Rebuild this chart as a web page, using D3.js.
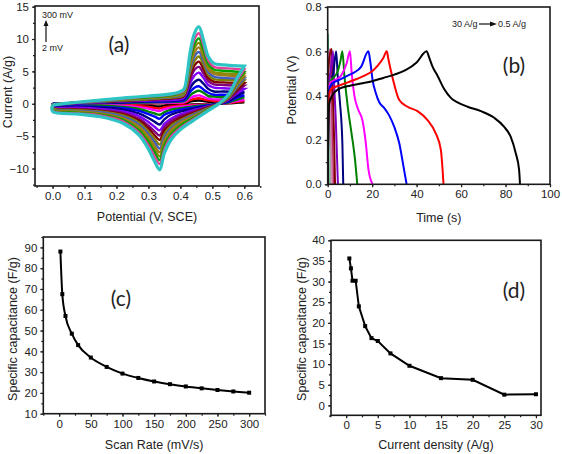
<!DOCTYPE html>
<html><head><meta charset="utf-8">
<script src="https://cdn.jsdelivr.net/npm/d3@7"></script>
<style>
html,body{margin:0;padding:0;background:#fff;}
svg text{font-family:"Liberation Sans",Arial,sans-serif;fill:#222;}
</style></head>
<body><svg id="c" width="562" height="454"></svg>
<script>
// ---------- Panel (a): CV curves ----------
const cvPotF = [0, 0.05, 0.1, 0.2, 0.3, 0.38, 0.41, 0.42, 0.43, 0.445, 0.458, 0.472, 0.487, 0.505, 0.535, 0.6];
const cvPotR = [0.6, 0.58, 0.55, 0.52, 0.48, 0.44, 0.4, 0.37, 0.35, 0.335, 0.32, 0.3, 0.27, 0.22, 0.15, 0.08, 0.0];
const cvRates = [2, 5, 10, 20, 30, 50, 75, 100, 125, 150, 175, 200, 225, 250, 275, 300];
const cvColors = ["#000000","#ff0000","#ff00ff","#008000","#0000ff","#000080","#8000ff","#800080","#800000","#808000","#4060c0","#a07820","#8a8a00","#00a000","#e0409a","#2ec4c4"];
const cvFwd = [
 [-0.01,0.0,0.01,0.03,0.05,0.07,0.09,0.18,0.33,0.46,0.5,0.42,0.31,0.26,0.25,0.24],
 [-0.01,0.01,0.02,0.06,0.09,0.11,0.16,0.3,0.55,0.78,0.85,0.7,0.52,0.44,0.43,0.41],
 [-0.02,0.01,0.04,0.09,0.13,0.17,0.24,0.46,0.85,1.2,1.3,1.08,0.8,0.68,0.65,0.63],
 [0.0,0.0,0.1,0.1,0.2,0.3,0.4,0.7,1.3,1.8,2.0,1.7,1.2,1.1,1.0,1.0],
 [0.0,0.0,0.1,0.2,0.3,0.4,0.5,1.0,1.8,2.5,2.7,2.2,1.7,1.4,1.4,1.3],
 [-0.1,0.0,0.1,0.2,0.4,0.5,0.7,1.3,2.4,3.4,3.7,3.1,2.3,1.9,1.9,1.8],
 [-0.1,0.0,0.1,0.3,0.5,0.6,0.9,1.7,3.1,4.4,4.8,4.0,2.9,2.5,2.4,2.3],
 [-0.1,0.0,0.2,0.4,0.6,0.8,1.1,2.0,3.7,5.3,5.7,4.7,3.5,3.0,2.9,2.8],
 [-0.1,0.1,0.2,0.4,0.7,0.9,1.2,2.3,4.3,6.0,6.5,5.4,4.0,3.4,3.3,3.2],
 [-0.1,0.1,0.2,0.5,0.7,1.0,1.3,2.6,4.8,6.7,7.3,6.1,4.5,3.8,3.7,3.6],
 [-0.1,0.1,0.2,0.5,0.8,1.1,1.5,2.8,5.2,7.4,8.0,6.7,4.9,4.2,4.0,3.9],
 [-0.1,0.1,0.3,0.6,0.9,1.2,1.6,3.1,5.7,8.0,8.7,7.2,5.3,4.6,4.4,4.2],
 [-0.2,0.1,0.3,0.6,0.9,1.3,1.7,3.3,6.2,8.7,9.4,7.8,5.8,4.9,4.7,4.6],
 [-0.2,0.1,0.3,0.7,1.0,1.4,1.9,3.6,6.6,9.3,10.1,8.4,6.2,5.3,5.1,4.9],
 [-0.2,0.1,0.3,0.7,1.1,1.5,2.0,3.8,7.1,10.1,10.9,9.1,6.7,5.7,5.5,5.3],
 [-0.2,0.1,0.35,0.8,1.2,1.6,2.2,4.2,7.8,11.0,11.9,9.9,7.3,6.25,6.0,5.8]
];
const cvRev = [
 [0.24,0.18,0.06,0,-0.05,-0.11,-0.17,-0.24,-0.32,-0.43,-0.38,-0.29,-0.2,-0.13,-0.08,-0.07,-0.05],
 [0.41,0.3,0.1,0,-0.09,-0.18,-0.28,-0.4,-0.54,-0.72,-0.64,-0.5,-0.34,-0.21,-0.14,-0.11,-0.09],
 [0.63,0.46,0.15,0,-0.14,-0.28,-0.44,-0.61,-0.83,-1.11,-0.98,-0.76,-0.52,-0.33,-0.22,-0.17,-0.13],
 [1.0,0.7,0.2,0,-0.2,-0.4,-0.7,-0.9,-1.3,-1.7,-1.5,-1.2,-0.8,-0.5,-0.3,-0.3,-0.2],
 [1.3,1.0,0.3,0,-0.3,-0.6,-0.9,-1.3,-1.7,-2.3,-2.0,-1.6,-1.1,-0.7,-0.5,-0.4,-0.3],
 [1.8,1.3,0.4,0,-0.4,-0.8,-1.2,-1.7,-2.4,-3.2,-2.8,-2.2,-1.5,-0.9,-0.6,-0.5,-0.4],
 [2.3,1.7,0.6,0,-0.5,-1.0,-1.6,-2.3,-3.1,-4.1,-3.6,-2.8,-1.9,-1.2,-0.8,-0.6,-0.5],
 [2.8,2.0,0.7,0,-0.6,-1.2,-1.9,-2.7,-3.6,-4.9,-4.3,-3.4,-2.3,-1.4,-1.0,-0.8,-0.6],
 [3.2,2.3,0.8,0,-0.7,-1.4,-2.2,-3.1,-4.1,-5.6,-4.9,-3.8,-2.6,-1.6,-1.1,-0.9,-0.7],
 [3.6,2.6,0.9,0,-0.8,-1.6,-2.5,-3.4,-4.7,-6.3,-5.5,-4.3,-2.9,-1.8,-1.2,-1.0,-0.7],
 [3.9,2.8,0.9,0,-0.9,-1.7,-2.7,-3.8,-5.1,-6.9,-6.0,-4.7,-3.2,-2.0,-1.3,-1.1,-0.8],
 [4.2,3.1,1.0,0,-1.0,-1.9,-2.9,-4.1,-5.6,-7.5,-6.6,-5.1,-3.5,-2.2,-1.5,-1.2,-0.9],
 [4.6,3.3,1.1,0,-1.0,-2.1,-3.2,-4.4,-6.0,-8.1,-7.1,-5.5,-3.8,-2.4,-1.6,-1.3,-0.9],
 [4.9,3.6,1.2,0,-1.1,-2.2,-3.4,-4.8,-6.5,-8.7,-7.6,-5.9,-4.1,-2.5,-1.7,-1.4,-1.0],
 [5.3,3.8,1.3,0,-1.2,-2.4,-3.7,-5.1,-7.0,-9.3,-8.2,-6.4,-4.4,-2.7,-1.8,-1.5,-1.1],
 [5.8,4.2,1.4,0.0,-1.3,-2.6,-4.0,-5.6,-7.6,-10.2,-9.0,-7.0,-4.8,-3.0,-2.0,-1.6,-1.2]
];
const cvXTicks = [0, 0.1, 0.2, 0.3, 0.4, 0.5, 0.6];
const cvYTicks = [-10, -5, 0, 5, 10, 15];

// ---------- Panel (b): GCD curves (time s, potential V) ----------
const gcd30 = [[0,0],[0.1,0.68],[0.25,0.62],[0.45,0.3],[0.65,0]];
const gcd20 = [[0,0],[0.05,0.56],[0.7,0.61],[1.0,0.35],[1.4,0]];
const gcd15 = [[0,0],[0.05,0.55],[1.0,0.61],[1.3,0.4],[1.8,0.1],[2.0,0]];
const gcd10 = [[0,0],[0.1,0.5],[1.4,0.61],[1.7,0.4],[2.3,0.15],[2.6,0]];
const gcd7 = [[0,0],[0.1,0.5],[1.8,0.61],[2.2,0.45],[2.9,0.2],[3.3,0]];
const gcd4 = [[0,0],[0.2,0.45],[1.2,0.5],[2.4,0.6],[2.9,0.45],[3.6,0.3],[4.2,0.12],[4.6,0]];
const gcd3 = [[0,0],[0.2,0.43],[1,0.45],[2.5,0.5],[3.8,0.6],[4.5,0.49],[5.5,0.37],[6.6,0.185],[7.0,0]];
const gcd2 = [[0,0],[0.2,0.44],[0.7,0.456],[2.5,0.48],[4.5,0.51],[5.8,0.56],[6.6,0.6],[7.5,0.49],[8.1,0.43],[9,0.35],[10.5,0.245],[12.3,0.11],[13.3,0]];
const gcd15b = [[0,0],[0.3,0.43],[1.2,0.46],[3.3,0.47],[6,0.49],[8.5,0.545],[10,0.6],[10.8,0.5],[12,0.4],[13.8,0.335],[15.6,0.29],[17.1,0.19],[18.3,0.07],[20.2,0]];
const gcd1 = [[0,0],[0.4,0.42],[2,0.455],[5,0.47],[9,0.49],[12,0.505],[15,0.53],[18.3,0.6],[19.2,0.55],[20.2,0.47],[21.7,0.41],[23.2,0.37],[25.4,0.345],[27.7,0.31],[29.9,0.26],[32.2,0.185],[34.1,0.08],[35.5,0]];
const gcd075 = [[0,0],[0.5,0.40],[1.5,0.43],[5,0.445],[9,0.46],[13,0.475],[16.5,0.49],[20,0.51],[22.5,0.535],[25,0.57],[26.6,0.6],[27.2,0.57],[29.2,0.48],[32.2,0.38],[35.9,0.35],[40.4,0.33],[44.9,0.29],[48.6,0.23],[50.9,0.155],[52.1,0]];
const gcd05 = [[0,0],[0.6,0.36],[2,0.40],[5,0.43],[10,0.445],[15,0.455],[20,0.465],[25,0.48],[30,0.495],[35,0.515],[40,0.55],[44.5,0.6],[45.7,0.57],[47.2,0.53],[49.4,0.49],[52.4,0.43],[55.4,0.39],[58.4,0.37],[62.9,0.35],[68.9,0.33],[74.9,0.30],[79.3,0.26],[82.3,0.215],[84.6,0.14],[86.1,0.065],[86.5,0]];
const gcdSeries = [gcd30, gcd20, gcd15, gcd10, gcd7, gcd4, gcd3, gcd2, gcd15b, gcd1, gcd075, gcd05];
const gcdColors = ["#00a050","#a0a0a0","#d080b0","#c03070","#800000","#8000c0","#000080","#008000","#ff00ff","#0000ff","#ff0000","#000000"];
const gcdWidths = [1,1.5,1.5,1.5,2,2,2,2,2,2,2,2];
const gcdXTicks = [0, 20, 40, 60, 80, 100];
const gcdYTicks = [0, 0.2, 0.4, 0.6, 0.8];

// ---------- Panel (c): capacitance vs scan rate ----------
const scanRate = [2, 5, 10, 20, 30, 50, 75, 100, 125, 150, 175, 200, 225, 250, 275, 300];
const capScan = [88, 67.5, 57, 48.5, 43, 37, 32.5, 29.3, 27.2, 25.5, 24.2, 23.1, 22.2, 21.4, 20.7, 20.1];
const scanXTicks = [0, 50, 100, 150, 200, 250, 300];
const scanYTicks = [10, 20, 30, 40, 50, 60, 70, 80, 90];

// ---------- Panel (d): capacitance vs current density ----------
const currDens = [0.5, 0.75, 1, 1.5, 2, 3, 4, 5, 7, 10, 15, 20, 25, 30];
const capCurr = [35.6, 33.2, 30.2, 30.2, 24, 19.2, 16.3, 15.6, 12.6, 9.6, 6.6, 6.2, 2.6, 2.7];
const currXTicks = [0, 5, 10, 15, 20, 25, 30];
const currYTicks = [0, 5, 10, 15, 20, 25, 30, 35, 40];

const svg = d3.select("#c");

function panel(o){
  const g = svg.append("g");
  const x = d3.scaleLinear().domain(o.xd).range([o.l, o.r]);
  const y = d3.scaleLinear().domain(o.yd).range([o.b, o.t]);
  const clipId = "clip" + o.id;
  svg.append("clipPath").attr("id", clipId).append("rect")
    .attr("x", o.l).attr("y", o.t).attr("width", o.r - o.l).attr("height", o.b - o.t);
  const plot = g.append("g").attr("clip-path", `url(#${clipId})`);
  const xAxis = d3.axisBottom(x).tickValues(o.xt).tickFormat(o.xf).tickSize(3).tickPadding(3);
  const yAxis = d3.axisLeft(y).tickValues(o.yt).tickFormat(o.yf).tickSize(3).tickPadding(3);
  const xMinor = d3.axisBottom(x).tickValues(o.xm).tickFormat("").tickSize(2);
  const yMinor = d3.axisLeft(y).tickValues(o.ym).tickFormat("").tickSize(2);
  g.append("g").attr("transform", `translate(0,${o.b})`).call(xAxis);
  g.append("g").attr("transform", `translate(0,${o.b})`).call(xMinor);
  g.append("g").attr("transform", `translate(${o.l},0)`).call(yAxis);
  g.append("g").attr("transform", `translate(${o.l},0)`).call(yMinor);
  g.selectAll(".domain").remove();
  g.selectAll(".tick line").attr("stroke", "#222").attr("stroke-width", 1.2);
  g.selectAll(".tick text").attr("font-size", 11.5).attr("fill", "#222")
    .style("font-family", '"Liberation Sans",Arial,sans-serif');
  g.append("rect").attr("x", o.l).attr("y", o.t).attr("width", o.r - o.l).attr("height", o.b - o.t)
    .attr("fill", "none").attr("stroke", "#1a1a1a").attr("stroke-width", 1.6);
  g.append("text").attr("x", (o.l + o.r) / 2 + (o.xlo || 0)).attr("y", o.xly)
    .attr("text-anchor", "middle").attr("font-size", 12.5).text(o.xl);
  g.append("text").attr("transform", `translate(${o.ylx},${o.yly}) rotate(-90)`)
    .attr("text-anchor", "middle").attr("font-size", 12.5).text(o.yl);
  g.append("text").attr("x", o.px).attr("y", o.py).attr("text-anchor", "middle")
    .style("font-family", "Lato,'Open Sans',sans-serif").attr("font-size", 21).text(o.pl);
  return {x, y, plot, g};
}

function minors(a, b, s){ const r = []; for (let v = a; v <= b + 1e-9; v += s) r.push(+v.toFixed(4)); return r; }

// Panel (a)
const A = panel({id:"a", l:35, r:259, t:6, b:186, xd:[-0.055, 0.646], yd:[-12.7, 15.1],
  xt:cvXTicks, yt:cvYTicks, xm:minors(-0.05, 0.65, 0.05), ym:minors(-12.5, 15, 2.5),
  xf:d3.format(".1f"), yf:d3.format("d"),
  xl:"Potential (V, SCE)", xly:221, yl:"Current (A/g)", ylx:12, yly:92,
  pl:"(a)", px:119, py:52});
const cvLine = d3.line().x(d => A.x(d[0])).y(d => A.y(d[1])).curve(d3.curveCatmullRom.alpha(0.5));
cvRates.forEach((r, i) => {
  const pts = cvPotF.map((p, j) => [p, cvFwd[i][j]]).concat(cvPotR.map((p, j) => [p, cvRev[i][j]]));
  pts.push(pts[0]);
  A.plot.append("path").attr("d", cvLine(pts)).attr("fill", "none")
    .attr("stroke", cvColors[i]).attr("stroke-width", i === cvRates.length - 1 ? 3.2 : 2.4);
});
A.g.append("text").attr("x", 42).attr("y", 18).attr("font-size", 9).text("300 mV");
A.g.append("text").attr("x", 42).attr("y", 51).attr("font-size", 9).text("2 mV");
A.g.append("line").attr("x1", 46).attr("x2", 46).attr("y1", 42).attr("y2", 24).attr("stroke", "#111").attr("stroke-width", 1.2);
A.g.append("path").attr("d", "M43.5,26 L46,20 L48.5,26 Z").attr("fill", "#111");

// Panel (b)
const B = panel({id:"b", l:327.7, r:550, t:7, b:184.3, xd:[0, 100], yd:[0, 0.8],
  xt:gcdXTicks, yt:gcdYTicks, xm:minors(0, 100, 10), ym:minors(0, 0.8, 0.1),
  xf:d3.format("d"), yf:d3.format(".1f"),
  xl:"Time (s)", xly:222, yl:"Potential (V)", ylx:296, yly:90,
  pl:"(b)", px:514, py:73});
const gcdLine = d3.line().x(d => B.x(d[0])).y(d => B.y(d[1])).curve(d3.curveMonotoneX);
gcdSeries.forEach((s, i) => {
  B.plot.append("path").attr("d", gcdLine(s)).attr("fill", "none")
    .attr("stroke", gcdColors[i]).attr("stroke-width", gcdWidths[i]);
});
B.g.append("text").attr("x", 452).attr("y", 27).attr("font-size", 9).text("30 A/g");
B.g.append("line").attr("x1", 479).attr("x2", 492).attr("y1", 24).attr("y2", 24).attr("stroke", "#111").attr("stroke-width", 1.2);
B.g.append("path").attr("d", "M490,21.5 L497,24 L490,26.5 Z").attr("fill", "#111");
B.g.append("text").attr("x", 498).attr("y", 27).attr("font-size", 9).text("0.5 A/g");

// Panel (c)
const C = panel({id:"c", l:43.3, r:265, t:237, b:413.7, xd:[-25, 325], yd:[10, 95],
  xt:scanXTicks, yt:scanYTicks, xm:minors(-25, 325, 25), ym:minors(10, 95, 5),
  xf:d3.format("d"), yf:d3.format("d"),
  xl:"Scan Rate (mV/s)", xly:449, yl:"Specific capacitance (F/g)", ylx:17, yly:329,
  pl:"(c)", px:121, py:306});
const cData = scanRate.map((v, i) => [v, capScan[i]]);
C.plot.append("path").attr("d", d3.line().x(d => C.x(d[0])).y(d => C.y(d[1])).curve(d3.curveMonotoneX)(cData))
  .attr("fill", "none").attr("stroke", "#000").attr("stroke-width", 2);
C.plot.selectAll("rect.m").data(cData).enter().append("rect")
  .attr("x", d => C.x(d[0]) - 2).attr("y", d => C.y(d[1]) - 2).attr("width", 4).attr("height", 4).attr("fill", "#000");

// Panel (d)
const D = panel({id:"d", l:331, r:541, t:240.3, b:415.3, xd:[-2.4, 30.8], yd:[-2.4, 40],
  xt:currXTicks, yt:currYTicks, xm:minors(-2.5, 30, 2.5), ym:minors(-2.5, 40, 2.5),
  xf:d3.format("d"), yf:d3.format("d"),
  xl:"Current density (A/g)", xly:449, yl:"Specific capacitance (F/g)", ylx:306, yly:329,
  pl:"(d)", px:514, py:298});
const dData = currDens.map((v, i) => [v, capCurr[i]]);
D.plot.append("path").attr("d", d3.line().x(d => D.x(d[0])).y(d => D.y(d[1]))(dData))
  .attr("fill", "none").attr("stroke", "#000").attr("stroke-width", 2);
D.plot.selectAll("rect.m").data(dData).enter().append("rect")
  .attr("x", d => D.x(d[0]) - 2).attr("y", d => D.y(d[1]) - 2).attr("width", 4).attr("height", 4).attr("fill", "#000");
</script></body></html>
